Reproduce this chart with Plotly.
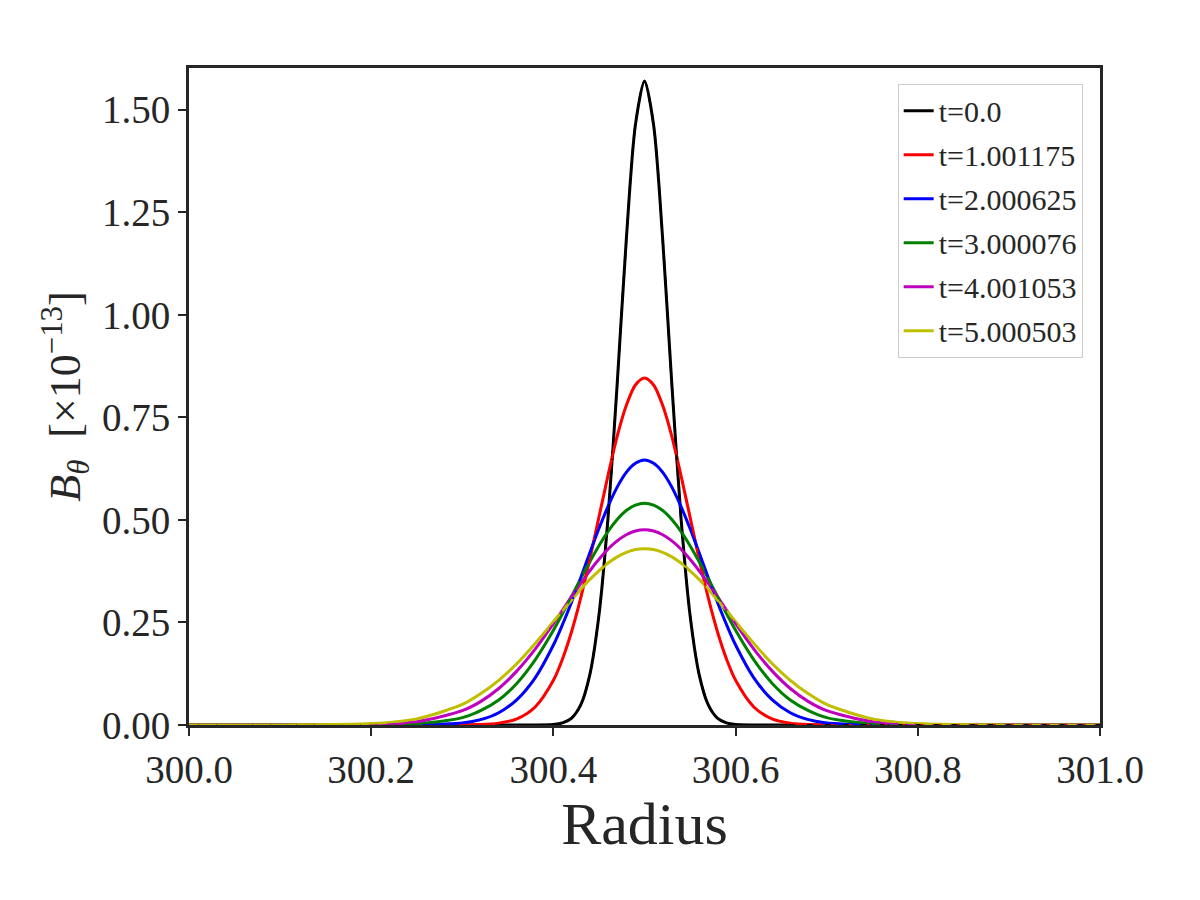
import plotly.graph_objects as go

radius = [300.0, 300.1, 300.2, 300.25, 300.3, 300.32, 300.34, 300.36, 300.38, 300.40,
          300.41, 300.42, 300.43, 300.44, 300.45, 300.46, 300.47, 300.48, 300.49, 300.50,
          300.51, 300.52, 300.53, 300.54, 300.55, 300.56, 300.57, 300.58, 300.59, 300.60,
          300.62, 300.64, 300.66, 300.68, 300.70, 300.75, 300.8, 300.9, 301.0]

labels = ["t=0.0", "t=1.001175", "t=2.000625", "t=3.000076", "t=4.001053", "t=5.000503"]
colors = ["#000000", "#ff0000", "#0000ff", "#008000", "#bf00bf", "#bfbf00"]

b_t0 = [0, 0, 0, 0, 0, 0, 0, 0, 0, 0.001, 0.005, 0.017, 0.049, 0.123, 0.268, 0.507, 0.831, 1.183, 1.463, 1.570,
        1.463, 1.183, 0.831, 0.507, 0.268, 0.123, 0.049, 0.017, 0.005, 0.001, 0, 0, 0, 0, 0, 0, 0, 0, 0]
b_t1 = [0, 0, 0, 0, 0.0002, 0.001, 0.0045, 0.015, 0.044, 0.109, 0.161, 0.228, 0.310, 0.405, 0.507, 0.609, 0.704, 0.779, 0.829, 0.846,
        0.829, 0.779, 0.704, 0.609, 0.507, 0.405, 0.310, 0.228, 0.161, 0.109, 0.044, 0.015, 0.0045, 0.001, 0.0002, 0, 0, 0, 0]
b_t2 = [0, 0, 0, 0.0004, 0.005, 0.013, 0.030, 0.062, 0.115, 0.195, 0.245, 0.300, 0.359, 0.420, 0.479, 0.533, 0.580, 0.616, 0.638, 0.646,
        0.638, 0.616, 0.580, 0.533, 0.479, 0.420, 0.359, 0.300, 0.245, 0.195, 0.115, 0.062, 0.030, 0.013, 0.005, 0.0004, 0, 0, 0]
b_t3 = [0, 0, 0.0003, 0.003, 0.018, 0.035, 0.061, 0.102, 0.159, 0.231, 0.272, 0.314, 0.357, 0.398, 0.437, 0.472, 0.501, 0.523, 0.536, 0.541,
        0.536, 0.523, 0.501, 0.472, 0.437, 0.398, 0.357, 0.314, 0.272, 0.231, 0.159, 0.102, 0.061, 0.035, 0.018, 0.003, 0.0003, 0, 0]
b_t4 = [0, 0, 0.001, 0.008, 0.035, 0.057, 0.089, 0.132, 0.185, 0.247, 0.280, 0.313, 0.345, 0.376, 0.404, 0.429, 0.449, 0.464, 0.473, 0.476,
        0.473, 0.464, 0.449, 0.429, 0.404, 0.376, 0.345, 0.313, 0.280, 0.247, 0.185, 0.132, 0.089, 0.057, 0.035, 0.008, 0.001, 0, 0]
b_t5 = [0, 0.0001, 0.0035, 0.015, 0.050, 0.076, 0.109, 0.150, 0.199, 0.252, 0.279, 0.305, 0.331, 0.355, 0.376, 0.395, 0.410, 0.421, 0.428, 0.430,
        0.428, 0.421, 0.410, 0.395, 0.376, 0.355, 0.331, 0.305, 0.279, 0.252, 0.199, 0.150, 0.109, 0.076, 0.050, 0.015, 0.0035, 0.0001, 0]

series = [b_t0, b_t1, b_t2, b_t3, b_t4, b_t5]

fig = go.Figure()
for i, (lab, col, ys) in enumerate(zip(labels, colors, series)):
    fig.add_trace(go.Scatter(x=radius, y=ys, mode="lines", name=lab, legendgroup=f"g{i}",
                             line=dict(color=col, width=3, shape="spline", smoothing=0.8)))
for i, (lab, col, ys) in enumerate(zip(labels, colors, series)):
    fig.add_trace(go.Scatter(x=radius, y=ys, mode="lines", showlegend=False, legendgroup=f"g{i}",
                             line=dict(color=col, width=2, dash="dash", shape="spline", smoothing=0.8)))

serif = "Liberation Serif, Times New Roman, serif"
axcol = "#262626"
fig.update_layout(
    width=1200, height=900,
    paper_bgcolor="white", plot_bgcolor="white",
    margin=dict(l=189, r=100, t=68, b=175),
    font=dict(family=serif, color=axcol),
    showlegend=True,
    legend=dict(x=0.981, y=0.976, xanchor="right", yanchor="top",
                bgcolor="white", bordercolor="#cccccc", borderwidth=1,
                tracegroupgap=2,
                font=dict(family=serif, size=30, color=axcol)),
    xaxis=dict(range=[300.0, 301.0], dtick=0.2, tick0=300.0, tickformat=".1f",
               showgrid=False, zeroline=False, showline=True, mirror=True,
               linecolor=axcol, linewidth=3, ticks="outside", ticklen=8, tickwidth=2,
               tickcolor=axcol, tickfont=dict(family=serif, size=39, color=axcol),
               title=dict(text="Radius", font=dict(family=serif, size=60, color=axcol), standoff=12)),
    yaxis=dict(range=[0, 1.602], dtick=0.25, tick0=0, tickformat=".2f",
               showgrid=False, zeroline=False, showline=True, mirror=True,
               linecolor=axcol, linewidth=3, ticks="outside", ticklen=8, tickwidth=2,
               tickcolor=axcol, tickfont=dict(family=serif, size=39, color=axcol),
               title=dict(text="<i>B</i><sub><i>θ</i></sub>  [×10<sup>−13</sup>]",
                          font=dict(family=serif, size=44, color=axcol), standoff=8)),
)

fig.write_html("out.html")
